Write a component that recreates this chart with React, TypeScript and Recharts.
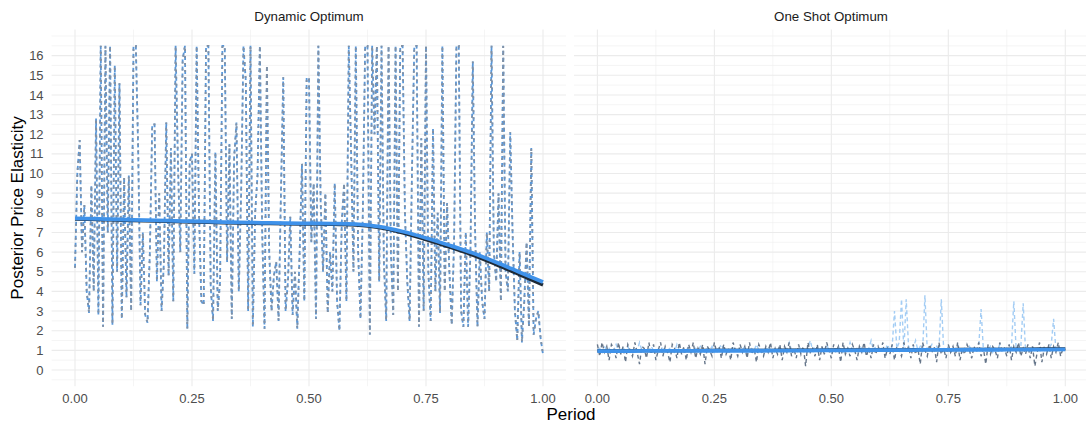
import { LineChart, Line, XAxis, YAxis, CartesianGrid } from 'recharts'

const FONT = '"Liberation Sans", Arial, Helvetica, sans-serif'

// axis breaks
const yTicks = [0, 1, 2, 3, 4, 5, 6, 7, 8, 9, 10, 11, 12, 13, 14, 15, 16]
const yMinor = [
  -0.5, 0.5, 1.5, 2.5, 3.5, 4.5, 5.5, 6.5, 7.5, 8.5, 9.5, 10.5, 11.5, 12.5, 13.5, 14.5, 15.5,
  16.5, 17,
]
const xTicks = [0, 0.25, 0.5, 0.75, 1]
const xMinor = [0.125, 0.375, 0.625, 0.875]

// Dynamic Optimum: simulated elasticity path (capped at 16.5)
const dynamicPath = [
  5.2, 10.0, 11.7, 6.0, 8.4, 4.0, 2.9, 9.4, 4.0, 12.8, 2.8, 16.5, 2.2, 16.5, 7.0, 16.5, 2.3, 15.5, 5.0, 14.6,
  2.6, 9.8, 3.7, 9.9, 3.0, 16.5, 16.5, 11.2, 3.3, 7.0, 2.8, 2.4, 6.0, 12.5, 12.5, 4.5, 9.0, 3.0, 5.5, 12.6,
  4.8, 11.3, 3.5, 16.5, 10.5, 6.0, 15.8, 16.5, 2.1, 10.6, 11.0, 4.9, 16.5, 8.0, 3.5, 3.3, 16.5, 16.5, 4.2, 2.5,
  11.1, 3.0, 4.5, 16.5, 16.5, 5.5, 11.5, 2.6, 10.8, 12.6, 4.0, 9.0, 16.5, 14.7, 3.0, 16.5, 2.2, 8.0, 9.9, 16.5,
  7.0, 2.1, 15.5, 6.0, 3.0, 4.8, 5.5, 2.5, 8.9, 14.9, 3.0, 4.5, 7.8, 2.8, 5.0, 2.1, 6.0, 10.5, 3.5, 14.9,
  14.8, 6.5, 9.5, 2.6, 16.5, 8.5, 5.0, 9.0, 2.9, 6.0, 4.0, 9.5, 3.5, 2.0, 7.5, 9.5, 3.5, 16.5, 11.0, 5.0,
  16.5, 6.0, 2.6, 8.0, 16.5, 16.5, 1.8, 16.5, 12.0, 16.5, 4.5, 16.5, 5.5, 2.5, 16.5, 6.0, 2.8, 16.5, 4.0, 16.5,
  16.5, 8.0, 4.5, 2.5, 10.0, 16.5, 16.5, 2.2, 11.8, 3.0, 16.5, 5.0, 2.5, 12.3, 4.0, 8.0, 2.9, 16.5, 4.0, 8.5,
  5.0, 2.3, 6.5, 16.5, 16.5, 3.0, 2.2, 7.0, 2.2, 6.0, 15.7, 7.0, 2.2, 6.0, 3.5, 2.6, 7.0, 4.0, 16.5, 6.0,
  4.5, 9.0, 3.5, 16.5, 5.0, 4.0, 12.1, 7.0, 3.0, 1.5, 6.0, 1.4, 3.5, 6.5, 2.2, 11.3, 1.8, 2.6, 3.0, 1.6, 0.8,
]
const dynamicSmooth = [
  7.72, 7.69, 7.66, 7.63, 7.6, 7.57, 7.54, 7.51, 7.49, 7.47, 7.46, 7.45, 7.42, 7.3, 7.05, 6.72, 6.35, 5.95,
  5.48, 4.98, 4.48,
]
const dynamicSmoothDark = [
  7.68, 7.65, 7.62, 7.59, 7.56, 7.53, 7.5, 7.47, 7.45, 7.43, 7.42, 7.41, 7.37, 7.24, 6.98, 6.63, 6.25, 5.84,
  5.36, 4.85, 4.33,
]

// One Shot Optimum
const oneShotGrey = [
  1.3, 0.7, 1.4, 0.9, 1.2, 0.5, 1.3, 1.1, 0.6, 1.4, 0.8, 1.2, 0.4, 1.3, 1.0, 0.7, 1.4, 0.9, 0.3, 1.2,
  1.1, 0.6, 1.4, 0.8, 1.3, 0.5, 1.0, 1.4, 0.7, 1.2, 0.9, 0.4, 1.3, 1.1, 0.6, 1.4, 0.8, 1.2, 0.5, 1.3,
  0.9, 1.4, 0.6, 1.1, 0.8, 1.3, 0.3, 1.2, 1.0, 0.7, 1.4, 0.9, 1.2, 0.6, 1.3, 0.8, 1.1, 0.5, 1.4, 1.0,
  0.7, 1.3, 0.9, 1.2, 0.6, 1.4, 0.8, 1.1, 0.4, 1.3, 1.0, 0.7, 1.2, 0.9, 1.4, 0.6, 1.1, 0.8, 1.3, 0.5,
  1.2, 0.9, 1.4, 0.7, 1.1, 0.6, 1.3, 0.8, 1.2, 0.2, 1.4, 0.9, 1.1, 0.7, 1.3, 0.5, 1.2, 0.8, 1.4, 1.0,
  0.6, 1.3, 0.9, 1.2, 0.4, 1.4, 0.8, 1.1, 0.7, 1.3, 1.0, 0.5, 1.2, 0.9, 1.4, 0.7, 1.1, 0.6, 1.3, 0.8,
  1.2, 0.9, 1.4, 0.6, 1.1, 0.8, 1.3, 0.5, 1.2, 1.0, 0.7, 1.4, 0.9, 1.2, 0.6, 1.3, 0.8, 1.1, 0.3, 1.4,
  1.0, 0.7, 1.3, 0.9, 1.2, 0.4, 1.4, 0.8, 1.1, 0.6, 1.3, 0.9, 1.2, 0.7, 1.4, 0.5, 1.1, 0.8, 1.3, 1.0,
  0.6, 1.2, 0.9, 1.4, 0.7, 1.1, 0.3, 1.3, 0.8, 1.2, 1.0, 0.6, 1.4, 0.9, 1.1, 0.7, 1.3, 0.5, 1.2, 0.9,
  1.4, 0.7, 1.1, 0.8, 1.3, 0.6, 1.2, 0.2, 0.9, 1.4, 0.4, 1.1, 0.8, 1.3, 0.6, 1.2, 0.9, 1.4, 0.7, 1.1, 1.0,
]
const oneShotBlue = [
  1.0, 1.1, 0.9, 1.2, 1.0, 1.1, 0.9, 1.0, 1.3, 1.0, 0.9, 1.1, 1.0, 1.2, 0.9, 1.0, 1.1, 1.0, 1.4, 1.0,
  0.9, 1.1, 1.0, 1.2, 1.0, 0.9, 1.1, 1.0, 1.2, 0.9, 1.0, 1.1, 1.0, 0.9, 1.3, 1.0, 1.1, 0.9, 1.0, 1.2,
  1.0, 0.9, 1.1, 1.0, 1.2, 1.0, 0.9, 1.1, 1.0, 1.2, 0.9, 1.0, 1.1, 1.3, 1.0, 0.9, 1.1, 1.0, 1.2, 1.0,
  0.9, 1.1, 1.0, 1.2, 0.9, 1.0, 1.1, 1.0, 1.3, 1.0, 0.9, 1.1, 1.0, 1.2, 1.0, 0.9, 1.1, 1.0, 1.2, 0.9,
  1.0, 1.1, 1.4, 1.0, 0.9, 1.1, 1.0, 1.2, 1.0, 0.9, 1.1, 1.5, 1.0, 1.2, 0.9, 1.0, 1.1, 1.0, 1.3, 1.0,
  0.9, 1.1, 1.0, 1.2, 1.0, 0.9, 1.1, 1.0, 1.4, 1.0, 0.9, 1.1, 1.0, 1.2, 1.0, 0.9, 1.1, 1.5, 1.0, 1.2,
  1.0, 0.9, 1.1, 1.0, 1.3, 1.0, 1.2, 3.0, 1.1, 1.4, 3.6, 1.0, 3.6, 1.2, 1.0, 1.1, 1.5, 1.0, 1.2, 0.9,
  3.8, 1.0, 1.1, 1.3, 1.0, 1.2, 1.0, 3.6, 1.1, 1.0, 1.2, 0.9, 1.1, 1.0, 1.3, 1.0, 0.9, 1.1, 1.0, 1.2,
  1.0, 1.1, 0.9, 1.2, 3.1, 1.0, 1.1, 1.0, 1.2, 0.9, 1.1, 1.0, 1.3, 1.0, 0.9, 1.1, 1.0, 1.2, 3.5, 1.0,
  1.1, 1.2, 3.4, 1.0, 1.1, 0.9, 1.2, 1.0, 1.1, 1.0, 0.9, 1.2, 1.0, 1.1, 1.3, 2.6, 1.0, 1.1, 0.9, 1.0, 1.0,
]
const oneShotSmooth = [
  0.96, 0.96, 0.97, 0.97, 0.97, 0.98, 0.98, 0.98, 0.99, 0.99, 1.0, 1.0, 1.01, 1.01, 1.02, 1.02, 1.03, 1.03,
  1.04, 1.04, 1.05,
]
const oneShotSmoothDark = [
  0.97, 0.98, 0.98, 0.99, 0.99, 1.0, 1.0, 1.0, 1.01, 1.01, 1.02, 1.02, 1.03, 1.03, 1.04, 1.04, 1.05, 1.05,
  1.06, 1.07, 1.08,
]

const toPoints = (values: number[]) =>
  values.map((y, i) => ({ x: i / (values.length - 1), y }))

const TOP = 29.6
const AXIS_H = 39.8
const Y_AXIS_W = 51.6
const tickStyle = { fill: '#4d4d4d', fontSize: 13, fontFamily: FONT }

interface PanelProps {
  left: number
  width: number
  showY: boolean
  lines: Array<{ data: number[]; color: string; width: number; dash?: string; offset?: number }>
}

function Panel({ left, width, showY, lines }: PanelProps) {
  return (
    <div style={{ position: 'absolute', left, top: 0 }}>
      <LineChart width={width} height={426} margin={{ top: TOP, right: 0, bottom: 0, left: 0 }}>
        <CartesianGrid
          stroke="#eeeeee"
          strokeWidth={0.6}
          horizontalValues={yMinor}
          verticalValues={xMinor}
        />
        <CartesianGrid
          stroke="#ebebeb"
          strokeWidth={1.1}
          horizontalValues={yTicks}
          verticalValues={xTicks}
        />
        <XAxis
          type="number"
          dataKey="x"
          domain={[-0.05, 1.05]}
          allowDataOverflow
          ticks={xTicks}
          interval={0}
          height={AXIS_H}
          tickFormatter={(v: number) => v.toFixed(2)}
          tick={tickStyle}
          tickLine={false}
          axisLine={false}
        />
        <YAxis
          type="number"
          domain={[-0.825, 17.325]}
          allowDataOverflow
          ticks={yTicks}
          interval={0}
          width={showY ? Y_AXIS_W : 0}
          hide={!showY}
          tick={tickStyle}
          tickLine={false}
          axisLine={false}
        />
        {lines.map((l, i) => (
          <Line
            key={i}
            data={toPoints(l.data)}
            dataKey="y"
            type={l.dash ? 'linear' : 'monotone'}
            stroke={l.color}
            strokeWidth={l.width}
            strokeDasharray={l.dash}
            strokeDashoffset={l.offset}
            dot={false}
            activeDot={false}
            isAnimationActive={false}
          />
        ))}
      </LineChart>
    </div>
  )
}

const stripStyle = {
  position: 'absolute' as const,
  top: 9,
  width: 300,
  textAlign: 'center' as const,
  fontSize: 13.3,
  lineHeight: '16px',
  color: '#1a1a1a',
}

export default function App() {
  return (
    <div
      style={{
        position: 'absolute',
        left: 0,
        top: 0,
        width: 1086,
        height: 426,
        overflow: 'hidden',
        background: '#fff',
        fontFamily: FONT,
      }}
    >
      <Panel
        left={0}
        width={566.4}
        showY
        lines={[
          { data: dynamicPath, color: '#5a97d8', width: 1.8, dash: '4 3' },
          { data: dynamicPath, color: '#8491a2', width: 1.8, dash: '2 5' },
          { data: dynamicSmoothDark, color: '#1f2a36', width: 3.2 },
          { data: dynamicSmooth, color: '#3f92ea', width: 3.8 },
        ]}
      />
      <Panel
        left={573.7}
        width={514.7}
        showY={false}
        lines={[
          { data: oneShotBlue, color: '#a4cdf4', width: 1.4, dash: '4 3' },
          { data: oneShotGrey, color: '#66768a', width: 1.4, dash: '4 3' },
          { data: oneShotSmoothDark, color: '#1f2a36', width: 3.2 },
          { data: oneShotSmooth, color: '#3f92ea', width: 3.8 },
        ]}
      />
      <div style={{ ...stripStyle, left: 309 - 150 }}>Dynamic Optimum</div>
      <div style={{ ...stripStyle, left: 831 - 150 }}>One Shot Optimum</div>
      <div
        style={{
          position: 'absolute',
          left: 571 - 100,
          top: 405,
          width: 200,
          textAlign: 'center',
          fontSize: 17,
          lineHeight: '20px',
          color: '#000',
        }}
      >
        Period
      </div>
      <div
        style={{
          position: 'absolute',
          left: 18 - 150,
          top: 208 - 10,
          width: 300,
          textAlign: 'center',
          fontSize: 17,
          lineHeight: '20px',
          color: '#000',
          transform: 'rotate(-90deg)',
        }}
      >
        Posterior Price Elasticity
      </div>
    </div>
  )
}
